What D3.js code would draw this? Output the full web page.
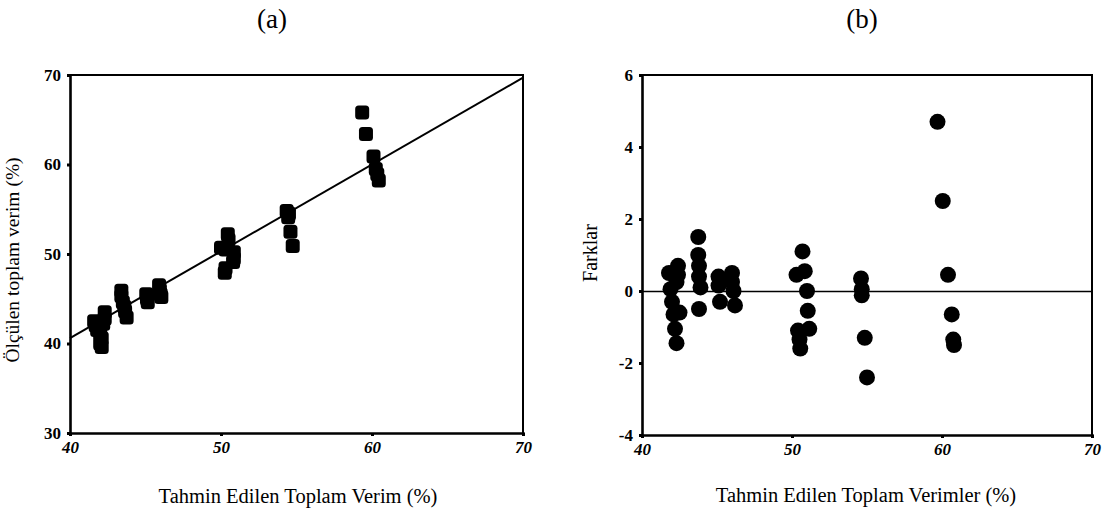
<!DOCTYPE html>
<html>
<head>
<meta charset="utf-8">
<script src="https://cdn.jsdelivr.net/npm/d3@7"></script>
<style>
  html, body { margin: 0; padding: 0; background: #fff; }
  svg { display: block; }
  text { font-family: "Liberation Serif", "Times New Roman", serif; fill: #000; }
</style>
</head>
<body>
<script>
// Panel (a): predicted vs measured total yield
const predA = [41.6, 41.7, 41.8, 42.3, 42.3, 42.2, 42.0, 42.1, 42.0, 42.1,
               43.4, 43.4, 43.5, 43.6, 43.65, 43.75,
               45.05, 45.1, 45.15, 45.9, 45.95, 46.0, 46.05,
               50.45, 50.5, 50.0, 50.3, 50.85, 50.85, 50.8, 50.3, 50.25,
               54.35, 54.45, 54.5, 54.6, 54.75,
               59.35, 59.6, 60.1, 60.25, 60.35, 60.45];
const measA = [42.5, 42.0, 41.5, 43.5, 42.8, 42.2, 41.1, 40.6, 40.0, 39.6,
               45.9, 45.3, 44.6, 44.1, 43.6, 42.9,
               45.5, 45.0, 44.6, 46.5, 46.0, 45.5, 45.2,
               52.2, 51.6, 50.7, 50.5, 50.2, 49.5, 49.1, 48.4, 47.9,
               54.8, 54.1, 54.5, 52.5, 50.9,
               65.8, 63.4, 60.9, 59.5, 58.9, 58.2];
// fitted line endpoints
const fitX = [40, 70];
const fitY = [40.6, 69.7];

// Panel (b): predicted vs residuals
const predB = [41.8, 42.4, 42.4, 42.3, 41.9, 42.0, 42.5, 42.1, 42.2, 42.3,
               43.75, 43.75, 43.8, 43.8, 43.9, 43.8,
               45.1, 45.1, 45.2, 46.0, 46.0, 46.1, 46.2,
               50.7, 50.3, 50.85, 51.0, 51.05, 51.15, 50.4, 50.5, 50.55,
               54.6, 54.65, 54.65, 54.85, 55.0,
               59.7, 60.05, 60.4, 60.65, 60.75, 60.8];
const diffB = [0.5, 0.7, 0.45, 0.25, 0.05, -0.3, -0.6, -0.65, -1.05, -1.45,
               1.5, 1.0, 0.7, 0.4, 0.1, -0.5,
               0.4, 0.15, -0.3, 0.5, 0.25, 0.0, -0.4,
               1.1, 0.45, 0.55, 0.0, -0.55, -1.05, -1.1, -1.35, -1.6,
               0.35, 0.05, -0.12, -1.3, -2.4,
               4.7, 2.5, 0.45, -0.65, -1.35, -1.5];

const xTicks = [40, 50, 60, 70];
const yTicksA = [30, 40, 50, 60, 70];
const yTicksB = [-4, -2, 0, 2, 4, 6];

const W = 1111, H = 519;
const svg = d3.select("body").append("svg").attr("width", W).attr("height", H);

// plain hyphen for negative tick values
const plain = d => String(d);

function frame(g, x, y, xTickVals, yTickVals) {
  const [x0, x1] = x.range();
  const [y0, y1] = y.range();
  // top and right border
  g.append("path")
    .attr("d", `M${x0},${y1}H${x1}V${y0}`)
    .attr("fill", "none").attr("stroke", "#000").attr("stroke-width", 2);

  const xa = g.append("g").attr("transform", `translate(0,${y0})`)
    .call(d3.axisBottom(x).tickValues(xTickVals).tickFormat(plain).tickSize(3).tickPadding(5));
  const ya = g.append("g").attr("transform", `translate(${x0},0)`)
    .call(d3.axisLeft(y).tickValues(yTickVals).tickFormat(plain).tickSize(3).tickPadding(6));
  [xa, ya].forEach(a => {
    a.select(".domain").attr("stroke-width", 2.6).attr("stroke", "#000");
    a.selectAll(".tick line").attr("stroke-width", 3).attr("stroke", "#000");
    a.selectAll(".tick text")
      .attr("font-family", "'Liberation Serif', serif")
      .attr("font-size", 17).attr("font-style", "italic").attr("font-weight", "bold");
  });
  ya.selectAll(".tick text").attr("font-style", "normal");
  return { xa, ya };
}

// ---- Panel (a) ----
const xA = d3.scaleLinear().domain([40, 70]).range([70, 523]);
const yA = d3.scaleLinear().domain([30, 70]).range([433, 75]);
const gA = svg.append("g");

gA.append("line")
  .attr("x1", xA(fitX[0])).attr("y1", yA(fitY[0]))
  .attr("x2", xA(fitX[1])).attr("y2", yA(fitY[1]))
  .attr("stroke", "#000").attr("stroke-width", 2);

const sq = 14;
gA.selectAll("rect.pt").data(predA.map((p, i) => [p, measA[i]]))
  .join("rect").attr("class", "pt")
  .attr("x", d => xA(d[0]) - sq / 2).attr("y", d => yA(d[1]) - sq / 2)
  .attr("width", sq).attr("height", sq).attr("rx", 3.5)
  .attr("fill", "#000");

frame(gA, xA, yA, xTicks, yTicksA);

svg.append("text").attr("x", 272).attr("y", 28).attr("text-anchor", "middle")
  .attr("font-size", 27).text("(a)");
svg.append("text").attr("x", 298).attr("y", 503).attr("text-anchor", "middle")
  .attr("font-size", 20.5).text("Tahmin Edilen Toplam Verim (%)");
svg.append("text").attr("transform", "translate(19,260) rotate(-90)")
  .attr("text-anchor", "middle").attr("font-size", 19.5).text("Ölçülen toplam verim (%)");

// ---- Panel (b) ----
const xB = d3.scaleLinear().domain([40, 70]).range([642, 1092]);
const yB = d3.scaleLinear().domain([-4, 6]).range([435, 75]);
const gB = svg.append("g");

gB.append("line")
  .attr("x1", xB(40)).attr("x2", xB(70))
  .attr("y1", Math.round(yB(0)) + 0.5).attr("y2", Math.round(yB(0)) + 0.5)
  .attr("stroke", "#000").attr("stroke-width", 1.3);

gB.selectAll("circle.pt").data(predB.map((p, i) => [p, diffB[i]]))
  .join("circle").attr("class", "pt")
  .attr("cx", d => xB(d[0])).attr("cy", d => yB(d[1])).attr("r", 8)
  .attr("fill", "#000");

frame(gB, xB, yB, xTicks, yTicksB);

svg.append("text").attr("x", 862).attr("y", 28).attr("text-anchor", "middle")
  .attr("font-size", 27).text("(b)");
svg.append("text").attr("x", 866).attr("y", 502).attr("text-anchor", "middle")
  .attr("font-size", 20.5).text("Tahmin Edilen Toplam Verimler (%)");
svg.append("text").attr("transform", "translate(597,253) rotate(-90)")
  .attr("text-anchor", "middle").attr("font-size", 20).text("Farklar");
</script>
</body>
</html>
